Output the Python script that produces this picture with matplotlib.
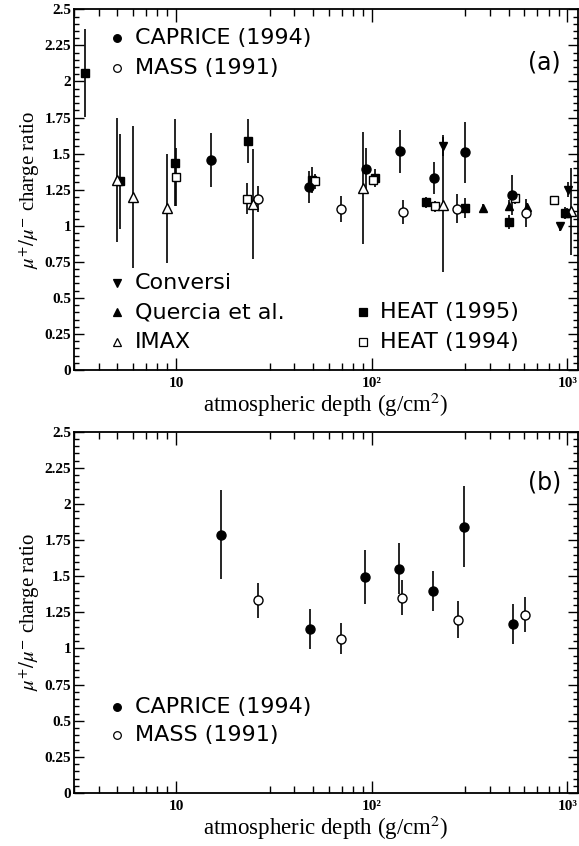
import numpy as np
import matplotlib
matplotlib.use("Agg")
import matplotlib.pyplot as plt
from matplotlib.ticker import FixedLocator, NullFormatter, MultipleLocator

plt.rcParams['mathtext.fontset'] = 'stix'
plt.rcParams['font.family'] = ['Liberation Serif', 'DejaVu Serif']

# panel (a) data
caprice_a_x = [15.0, 47.7, 93.4, 138.7, 207.5, 297.8, 518]
caprice_a_y = [1.456, 1.268, 1.396, 1.516, 1.329, 1.509, 1.215]
caprice_a_err = [0.185, 0.11, 0.14, 0.148, 0.11, 0.21, 0.14]

mass_a_x = [26.1, 69.8, 143.6, 271, 613]
mass_a_y = [1.1875, 1.116, 1.097, 1.118, 1.088]
mass_a_err = [0.09, 0.087, 0.083, 0.1, 0.1]

heat95_x = [3.43, 5.13, 9.86, 23.2, 49.1, 104.3, 189, 298, 501, 966]
heat95_y = [2.061, 1.308, 1.4375, 1.588, 1.32, 1.331, 1.162, 1.123, 1.025, 1.088]
heat95_err = [0.305, 0.33, 0.3, 0.15, 0.09, 0.06, 0.04, 0.07, 0.05, 0.04]

heat94_x = [10.0, 22.9, 50.9, 101, 210, 542, 857]
heat94_y = [1.336, 1.1875, 1.308, 1.32, 1.134, 1.19, 1.176]
heat94_err = [0.2, 0.107, 0.05, 0.04, 0.04, 0.04, 0.03]

imax_x = [4.97, 6.0, 8.97, 24.8, 90.2, 231, 1043]
imax_y = [1.32, 1.199, 1.12, 1.15, 1.262, 1.146, 1.10]
imax_err = [0.43, 0.49, 0.38, 0.38, 0.39, 0.47, 0.3]

quercia_x = [370, 501, 618, 1000]
quercia_y = [1.123, 1.139, 1.13, 1.09]
quercia_err = [0.03, 0.04, 0.03, 0.03]

conversi_x = [231, 916, 1002]
conversi_y = [1.556, 0.995, 1.25]
conversi_err = [0.07, 0.03, 0.05]

# panel (b) data
caprice_b_x = [16.9, 48.5, 92.1, 137, 206, 297, 527]
caprice_b_y = [1.787, 1.136, 1.494, 1.552, 1.398, 1.843, 1.168]
caprice_b_err = [0.306, 0.137, 0.184, 0.175, 0.136, 0.28, 0.137]

mass_b_x = [26.1, 69.7, 143, 274, 608]
mass_b_y = [1.333, 1.069, 1.352, 1.20, 1.234]
mass_b_err = [0.12, 0.107, 0.12, 0.126, 0.123]

x_ticks = [10, 100, 1000]
x_tick_labels = ['10', '10\u00b2', '10\u00b3']
y_tick_labels = ['0', '0.25', '0.5', '0.75', '1', '1.25', '1.5', '1.75', '2', '2.25', '2.5']

legend_font = ['DejaVu Sans']


def series(ax, x, y, err, marker, filled, ms=6.5):
    ax.errorbar(x, y, yerr=err, fmt=marker, color='black', ecolor='black',
                mfc='black' if filled else 'white', mec='black', mew=1.0,
                ms=ms, elinewidth=1.2, capsize=0, zorder=3)


def legend_entry(ax, xm, xt, y, marker, filled, label):
    ax.plot([xm], [y], marker=marker, color='black', ms=5.5, mew=0.9,
            mfc='black' if filled else 'white', mec='black',
            transform=ax.get_yaxis_transform(), clip_on=False, zorder=4)
    ax.text(xt, y, label, transform=ax.get_yaxis_transform(), va='center', ha='left',
            fontsize=16, family=legend_font)


def style_axes(ax):
    ax.set_xscale('log')
    ax.set_xlim(3.0, 1130)
    ax.set_ylim(0, 2.5)
    ax.xaxis.set_major_locator(FixedLocator(x_ticks))
    ax.set_xticklabels(x_tick_labels, fontsize=11, fontweight='bold')
    ax.xaxis.set_minor_locator(FixedLocator(
        [v * d for d in (1, 10, 100) for v in range(3, 10) if v * d >= 3]))
    ax.xaxis.set_minor_formatter(NullFormatter())
    ax.yaxis.set_minor_locator(MultipleLocator(0.05))
    ax.set_yticks(np.arange(0, 2.51, 0.25))
    ax.set_yticklabels(y_tick_labels, fontsize=11, fontweight='bold')
    ax.tick_params(which='both', direction='in', top=True, right=True, width=1.0)
    ax.tick_params(axis='x', which='major', length=9, pad=5)
    ax.tick_params(axis='x', which='minor', length=5)
    ax.tick_params(axis='y', which='major', length=7, pad=2)
    ax.tick_params(axis='y', which='minor', length=3.5)
    for s in ax.spines.values():
        s.set_linewidth(1.3)
    # axis title placed just below the tick labels
    ax.text(0.5, -42.0 / 361, r'atmospheric depth (g/cm$^{2}$)', transform=ax.transAxes,
            ha='center', va='baseline', fontsize=16.5)
    ax.set_ylabel(r'$\mu^{+}/\mu^{-}$ charge ratio', fontsize=15, labelpad=2)


fig = plt.figure(figsize=(5.79, 8.46), dpi=100)
ax1 = fig.add_axes([0.128, 0.5626, 0.870, 0.4264])
ax2 = fig.add_axes([0.128, 0.0626, 0.870, 0.4272])

# panel (a)
series(ax1, heat95_x, heat95_y, heat95_err, 's', True, 5.5)
series(ax1, heat94_x, heat94_y, heat94_err, 's', False, 5.5)
series(ax1, imax_x, imax_y, imax_err, '^', False, 6.5)
series(ax1, quercia_x, quercia_y, quercia_err, '^', True, 5.5)
series(ax1, conversi_x, conversi_y, conversi_err, 'v', True, 5.5)
series(ax1, caprice_a_x, caprice_a_y, caprice_a_err, 'o', True, 6.5)
series(ax1, mass_a_x, mass_a_y, mass_a_err, 'o', False, 6.5)
style_axes(ax1)

legend_entry(ax1, 0.086, 0.121, 2.30, 'o', True, 'CAPRICE (1994)')
legend_entry(ax1, 0.086, 0.121, 2.096, 'o', False, 'MASS (1991)')
legend_entry(ax1, 0.086, 0.121, 0.605, 'v', True, 'Conversi')
legend_entry(ax1, 0.086, 0.121, 0.40, '^', True, 'Quercia et al.')
legend_entry(ax1, 0.086, 0.121, 0.194, '^', False, 'IMAX')
legend_entry(ax1, 0.574, 0.608, 0.40, 's', True, 'HEAT (1995)')
legend_entry(ax1, 0.574, 0.608, 0.194, 's', False, 'HEAT (1994)')
ax1.text(0.934, 2.13, '(a)', transform=ax1.get_yaxis_transform(), ha='center',
         va='center', fontsize=17, family=legend_font)

# panel (b)
series(ax2, caprice_b_x, caprice_b_y, caprice_b_err, 'o', True, 6.5)
series(ax2, mass_b_x, mass_b_y, mass_b_err, 'o', False, 6.5)
style_axes(ax2)

legend_entry(ax2, 0.086, 0.121, 0.597, 'o', True, 'CAPRICE (1994)')
legend_entry(ax2, 0.086, 0.121, 0.403, 'o', False, 'MASS (1991)')
ax2.text(0.934, 2.146, '(b)', transform=ax2.get_yaxis_transform(), ha='center',
         va='center', fontsize=17, family=legend_font)

fig.savefig('out.png', dpi=100)
